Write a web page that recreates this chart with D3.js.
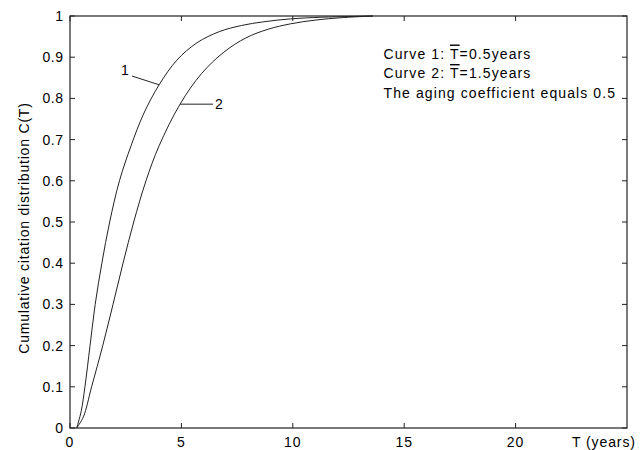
<!DOCTYPE html>
<html lang="en">
<head>
    <meta charset='utf-8'>
    <title>Cumulative citation distribution</title>
    <style>
        body{
            margin: 0;
            background: #fff;
        }
        text {
            font-family: "Liberation Sans", Arial, Helvetica, sans-serif;
            fill: #000;
            font-size: 14px;
        }
    </style>
</head>
<body>
<div id="chart"></div>
<script src='https://cdn.jsdelivr.net/npm/d3@7/dist/d3.min.js'></script>
<script>
    var width = 641, height = 450;
    var margin = {left: 70, right: 14, top: 16, bottom: 22};

    // values: [T, C(T)]
    var curve1 = [
        [0.3, 0], [0.5, 0.04], [0.67, 0.1], [0.9, 0.2], [1.13, 0.3], [1.43, 0.4],
        [1.78, 0.5], [2.22, 0.6], [2.74, 0.685], [3.3, 0.762], [4.0, 0.833],
        [4.8, 0.893], [5.7, 0.935], [6.7, 0.962], [7.7, 0.977], [8.7, 0.986],
        [9.9, 0.993], [11.3, 0.997], [13.6, 1.0]
    ];
    var curve2 = [
        [0.3, 0], [0.6, 0.027], [0.97, 0.1], [1.47, 0.2], [1.93, 0.3], [2.38, 0.4],
        [2.86, 0.5], [3.41, 0.6], [4.0, 0.685], [4.94, 0.786], [5.9, 0.86],
        [6.9, 0.912], [7.9, 0.947], [8.9, 0.968], [9.9, 0.981], [11, 0.99],
        [12.2, 0.996], [13.6, 1.0]
    ];
    var xTicks = [0, 5, 10, 15, 20];
    var yTicks = [0, 0.1, 0.2, 0.3, 0.4, 0.5, 0.6, 0.7, 0.8, 0.9, 1];
    var notes = ["Curve 1: ", "Curve 2: ", "The aging coefficient equals 0.5"];
    var noteMeans = ["0.5years", "1.5years", null];

    var svg = d3.select("#chart").append("svg")
        .attr("width", width).attr("height", height);

    var x = d3.scaleLinear().domain([0, 25]).range([margin.left, width - margin.right]);
    var y = d3.scaleLinear().domain([0, 1]).range([height - margin.bottom, margin.top]);

    var axisColor = "#222";

    // box
    svg.append("rect")
        .attr("x", x(0)).attr("y", y(1))
        .attr("width", x(25) - x(0)).attr("height", y(0) - y(1))
        .attr("fill", "none").attr("stroke", axisColor).attr("stroke-width", 1.2);

    // inward ticks on all four sides
    var tlen = 5;
    xTicks.forEach(function(t){
        svg.append("line").attr("x1", x(t)).attr("x2", x(t))
            .attr("y1", y(0)).attr("y2", y(0) - tlen).attr("stroke", axisColor);
        svg.append("line").attr("x1", x(t)).attr("x2", x(t))
            .attr("y1", y(1)).attr("y2", y(1) + tlen).attr("stroke", axisColor);
    });
    yTicks.forEach(function(t){
        svg.append("line").attr("x1", x(0)).attr("x2", x(0) + tlen)
            .attr("y1", y(t)).attr("y2", y(t)).attr("stroke", axisColor);
        svg.append("line").attr("x1", x(25)).attr("x2", x(25) - tlen)
            .attr("y1", y(t)).attr("y2", y(t)).attr("stroke", axisColor);
    });

    svg.selectAll("text.xt")
        .data(xTicks).enter()
        .append("text").attr("class", "xt")
        .attr("x", function(d){ return x(d); })
        .attr("y", 446.5)
        .style("text-anchor", "middle")
        .style("letter-spacing", "1px")
        .text(function(d){ return d; });

    svg.selectAll("text.yt")
        .data(yTicks).enter()
        .append("text").attr("class", "yt")
        .attr("x", 63.5)
        .attr("y", function(d){ return y(d) + 5; })
        .style("text-anchor", "end")
        .style("letter-spacing", "0.5px")
        .text(function(d){ return +d.toFixed(1); });

    svg.append("text")
        .attr("x", 572).attr("y", 446.5)
        .style("letter-spacing", "0.9px")
        .text("T (years)");

    svg.append("text")
        .attr("transform", "translate(29," + 228 + ") rotate(-90)")
        .style("text-anchor", "middle")
        .style("letter-spacing", "0.8px")
        .text("Cumulative citation distribution C(T)");

    // curves
    var line = d3.line()
        .x(function(d){ return x(d[0]); })
        .y(function(d){ return y(d[1]); })
        .curve(d3.curveCatmullRom.alpha(0.5));

    [curve1, curve2].forEach(function(c){
        svg.append("path")
            .attr("d", line(c))
            .attr("fill", "none")
            .attr("stroke", "#222")
            .attr("stroke-width", 1);
    });

    // curve labels
    svg.append("line").attr("x1", 132).attr("y1", 76)
        .attr("x2", x(4.0)).attr("y2", y(0.833)).attr("stroke", "#222");
    svg.append("text").attr("x", 121).attr("y", 75).text("1");
    svg.append("line").attr("x1", x(4.94)).attr("y1", y(0.786))
        .attr("x2", 213).attr("y2", y(0.786)).attr("stroke", "#222");
    svg.append("text").attr("x", 215).attr("y", 109).text("2");

    // notes
    notes.forEach(function(n, i){
        var t = svg.append("text")
            .attr("x", 383.5)
            .attr("y", 58.5 + i * 19.5)
            .style("letter-spacing", "1.1px");
        t.append("tspan").text(n);
        if (noteMeans[i]) {
            t.append("tspan").style("text-decoration", "overline").text("T");
            t.append("tspan").text("=" + noteMeans[i]);
        }
    });
</script>
</body>
</html>
